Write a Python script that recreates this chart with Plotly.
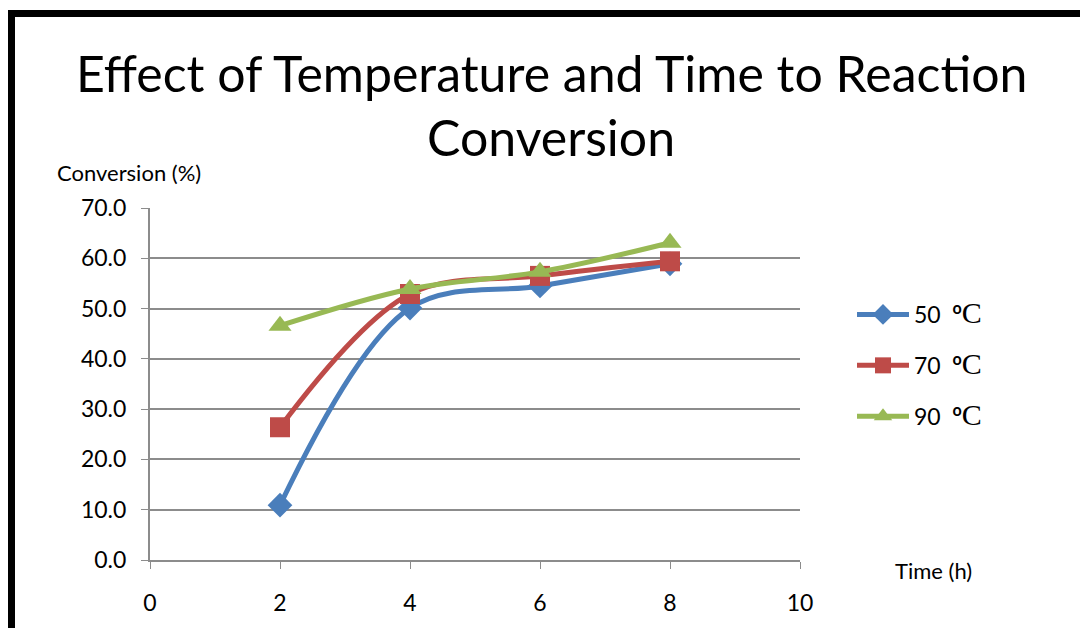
import plotly.graph_objects as go

time_h = [2, 4, 6, 8]
conv_50 = [10.9, 50.1, 54.5, 58.9]
conv_70 = [26.4, 52.9, 56.5, 59.4]
conv_90 = [46.6, 53.9, 57.3, 63.1]
series_names = ["50", "70", "90"]
series_colors = ["#4a7ebb", "#be4b48", "#98b954"]
series_symbols = ["diamond", "square", "triangle-up"]
marker_sizes = [19, 20, 20]
x_ticks = [0, 2, 4, 6, 8, 10]
y_ticks = [0, 10, 20, 30, 40, 50, 60, 70]
title_lines = ["Effect of Temperature and Time to Reaction", "Conversion"]

W, H = 1080, 628
L, R, T, B = 150, 280, 208, 68
pw, ph = W - L - R, H - T - B

def px(x):
    return (x - L) / pw

def py(y):
    return (H - B - y) / ph

FONT = "Lato"

fig = go.Figure()
for i, vals in enumerate([conv_50, conv_70, conv_90]):
    name = (f"{series_names[i]}  <b><sup>o</sup></b>"
            f"<span style='font-family:Liberation Serif;font-size:30px'>C</span>")
    fig.add_trace(go.Scatter(
        x=time_h, y=vals, name=name, mode="lines+markers",
        line=dict(color=series_colors[i], width=5, shape="spline", smoothing=1.0),
        marker=dict(symbol=series_symbols[i], size=marker_sizes[i], color=series_colors[i]),
        legendgroup=f"g{i}",
    ))

fig.update_layout(
    width=W, height=H,
    margin=dict(l=L, r=R, t=T, b=B),
    paper_bgcolor="white", plot_bgcolor="white",
    font=dict(family=FONT, color="black", size=22),
    showlegend=True,
    legend=dict(x=px(852), y=py(293), xanchor="left", yanchor="top",
                font=dict(size=23, family=FONT), tracegroupgap=18,
                bgcolor="rgba(0,0,0,0)", itemwidth=52),
    xaxis=dict(range=[0, 10], tickvals=x_ticks, ticks="outside", ticklen=7,
               tickcolor="#8c8c8c", showgrid=False, showline=True, linecolor="#8c8c8c",
               linewidth=2, zeroline=False, tickfont=dict(size=23), ticklabelstandoff=14),
    yaxis=dict(range=[0, 70], tickvals=y_ticks, tickformat=".1f", ticks="outside",
               ticklen=7, tickcolor="#8c8c8c", showgrid=True, gridcolor="#8c8c8c",
               gridwidth=1.5, showline=True, linecolor="#8c8c8c", linewidth=2,
               zeroline=False, tickfont=dict(size=23), ticklabelstandoff=10),
)

for j, (line, ycen) in enumerate(zip(title_lines, [73, 137])):
    fig.add_annotation(text=line, x=px(551), y=py(ycen), xref="paper", yref="paper",
                       xanchor="center", yanchor="middle", showarrow=False,
                       font=dict(size=50, family=FONT))

fig.add_annotation(text="Conversion (%)", x=px(55), y=py(172), xref="paper", yref="paper",
                   xanchor="left", yanchor="middle", showarrow=False,
                   font=dict(size=22, family=FONT))
fig.add_annotation(text="Time (h)", x=px(893), y=py(570), xref="paper", yref="paper",
                   xanchor="left", yanchor="middle", showarrow=False,
                   font=dict(size=22, family=FONT))

# thick black frame (top and left edges visible)
fig.add_shape(type="rect", xref="paper", yref="paper",
              x0=px(11.5), x1=px(1100), y0=py(650), y1=py(13.5),
              line=dict(color="black", width=7), fillcolor="rgba(0,0,0,0)", layer="above")

fig.write_html("out.html")
